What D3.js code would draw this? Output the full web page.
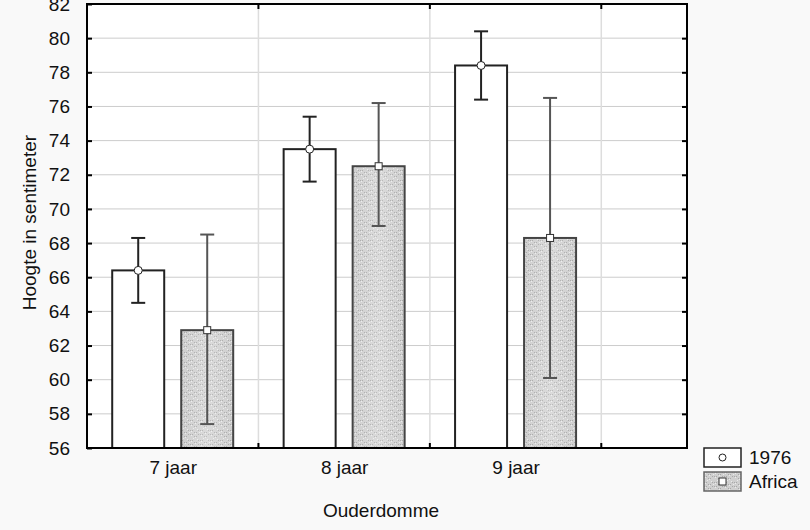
<!DOCTYPE html>
<html>
<head>
<meta charset="utf-8">
<script src="https://cdn.jsdelivr.net/npm/d3@7"></script>
<style>
  body { margin: 0; background: #f9f9f9; }
  svg { display: block; font-family: "Liberation Sans", Arial, sans-serif; }
</style>
</head>
<body>
<div id="chart"></div>
<script>
let categories = ["7 jaar", "8 jaar", "9 jaar"];
let series = ["1976", "Africa"];
let values1976 = [66.4, 73.5, 78.4];
let low1976 = [64.5, 71.6, 76.4];
let high1976 = [68.3, 75.4, 80.4];
let valuesAfrica = [62.9, 72.5, 68.3];
let lowAfrica = [57.4, 69.0, 60.1];
let highAfrica = [68.5, 76.2, 76.5];
let yTicks = [56, 58, 60, 62, 64, 66, 68, 70, 72, 74, 76, 78, 80, 82];

let width = 810, height = 530;
let margin = { left: 87, right: 120, top: 4, bottom: 82 };
let fontSize = "19px";

let svg = d3.select("#chart").append("svg")
    .attr("width", width)
    .attr("height", height);

// texture for the Africa bars
let defs = svg.append("defs");
let pat = defs.append("pattern")
    .attr("id", "tex")
    .attr("patternUnits", "userSpaceOnUse")
    .attr("width", 10).attr("height", 10);
pat.append("rect").attr("width", 10).attr("height", 10).attr("fill", "#cfcfcf");
[[0,0],[2,0],[4,2],[6,2],[0,4],[2,4],[4,6],[6,6],[8,0],[8,4]].forEach(p => {
    pat.append("rect").attr("x", p[0]).attr("y", p[1]).attr("width", 1).attr("height", 1).attr("fill", "#a8a8a8");
});
[[1,1],[5,3],[1,5],[5,7],[9,2],[3,8],[7,9]].forEach(p => {
    pat.append("rect").attr("x", p[0]).attr("y", p[1]).attr("width", 1).attr("height", 1).attr("fill", "#ebebeb");
});
let grad = defs.append("linearGradient").attr("id", "shine")
    .attr("x1", 0).attr("x2", 1).attr("y1", 0).attr("y2", 0);
grad.append("stop").attr("offset", "0%").attr("stop-color", "#fff").attr("stop-opacity", 0);
grad.append("stop").attr("offset", "50%").attr("stop-color", "#fff").attr("stop-opacity", 0.25);
grad.append("stop").attr("offset", "100%").attr("stop-color", "#fff").attr("stop-opacity", 0);

let x = d3.scaleLinear()
    .domain([0.5, 4])
    .range([margin.left, width - margin.right - 3]);

let y = d3.scaleLinear()
    .domain([56, 82])
    .range([height - margin.bottom, margin.top]);

let g = svg.append("g");

// plot background
g.append("rect")
    .attr("x", x(0.5)).attr("y", y(82))
    .attr("width", x(4) - x(0.5)).attr("height", y(56) - y(82))
    .attr("fill", "#fff");

// grid
g.selectAll(".hgrid").data(yTicks.slice(1, -1)).enter().append("line")
    .attr("x1", x(0.5)).attr("x2", x(4))
    .attr("y1", d => y(d)).attr("y2", d => y(d))
    .attr("stroke", "#cccccc").attr("stroke-width", 1);
g.selectAll(".vgrid").data([1.5, 2.5, 3.5]).enter().append("line")
    .attr("x1", d => x(d)).attr("x2", d => x(d))
    .attr("y1", y(82)).attr("y2", y(56))
    .attr("stroke", "#dddddd").attr("stroke-width", 1.5);

let offset = 34.5, barW = 52;
let data = categories.map((c, i) => [
    { cat: i + 1, s: "1976", v: values1976[i], lo: low1976[i], hi: high1976[i] },
    { cat: i + 1, s: "Africa", v: valuesAfrica[i], lo: lowAfrica[i], hi: highAfrica[i] }
]).flat();

let cx = d => x(d.cat) + (d.s == "1976" ? -offset : offset);

g.selectAll(".bar").data(data).enter().append("rect")
    .attr("x", d => cx(d) - barW / 2)
    .attr("y", d => y(d.v))
    .attr("width", barW)
    .attr("height", d => y(56) - y(d.v))
    .attr("fill", d => d.s == "1976" ? "#fff" : "url(#tex)")
    .attr("stroke", d => d.s == "1976" ? "#222" : "#444")
    .attr("stroke-width", 2);
g.selectAll(".shine").data(data.filter(d => d.s == "Africa")).enter().append("rect")
    .attr("x", d => cx(d) - barW / 2 + 1)
    .attr("y", d => y(d.v) + 1)
    .attr("width", barW - 2)
    .attr("height", d => y(56) - y(d.v) - 2)
    .attr("fill", "url(#shine)");

// error bars
let err = g.selectAll(".err").data(data).enter().append("g")
    .attr("stroke", d => d.s == "1976" ? "#222" : "#555")
    .attr("stroke-width", 2);
err.append("line")
    .attr("x1", cx).attr("x2", cx)
    .attr("y1", d => y(d.lo)).attr("y2", d => y(d.hi));
err.append("line")
    .attr("x1", d => cx(d) - 7).attr("x2", d => cx(d) + 7)
    .attr("y1", d => y(d.lo)).attr("y2", d => y(d.lo));
err.append("line")
    .attr("x1", d => cx(d) - 7).attr("x2", d => cx(d) + 7)
    .attr("y1", d => y(d.hi)).attr("y2", d => y(d.hi));

// markers
g.selectAll(".dot").data(data.filter(d => d.s == "1976")).enter().append("circle")
    .attr("cx", cx).attr("cy", d => y(d.v)).attr("r", 4)
    .attr("fill", "#fff").attr("stroke", "#222").attr("stroke-width", 1);
g.selectAll(".sq").data(data.filter(d => d.s == "Africa")).enter().append("rect")
    .attr("x", d => cx(d) - 3.5).attr("y", d => y(d.v) - 3.5)
    .attr("width", 7).attr("height", 7)
    .attr("fill", "#fff").attr("stroke", "#333").attr("stroke-width", 1);

// frame
g.append("rect")
    .attr("x", x(0.5)).attr("y", y(82))
    .attr("width", x(4) - x(0.5)).attr("height", y(56) - y(82))
    .attr("fill", "none").attr("stroke", "#000").attr("stroke-width", 2);

// axes
let yAxis = g.append("g")
    .attr("transform", "translate(" + x(0.5) + ",0)")
    .call(d3.axisLeft(y).tickValues(yTicks).tickSize(5).tickSizeOuter(0).tickPadding(12));
yAxis.select(".domain").remove();
yAxis.selectAll(".tick line").attr("stroke", "#000").attr("stroke-width", 2).attr("x1", 5).attr("x2", 0);
yAxis.selectAll("text").style("font-size", fontSize).attr("fill", "#111");

let yAxisR = g.append("g")
    .attr("transform", "translate(" + x(4) + ",0)")
    .call(d3.axisRight(y).tickValues(yTicks.slice(1, -1)).tickSize(0).tickFormat(""));
yAxisR.select(".domain").remove();
yAxisR.selectAll(".tick line").attr("stroke", "#000").attr("stroke-width", 2).attr("x1", -5).attr("x2", 0);

let xAxis = g.append("g")
    .attr("transform", "translate(0," + y(56) + ")")
    .call(d3.axisBottom(x).tickValues([1, 2, 3]).tickSize(0).tickPadding(13)
        .tickFormat(d => categories[d - 1]));
xAxis.select(".domain").remove();
xAxis.selectAll("text").style("font-size", fontSize).attr("fill", "#111");
g.selectAll(".xt").data([1.5, 2.5, 3.5]).enter().append("line")
    .attr("x1", d => x(d)).attr("x2", d => x(d))
    .attr("y1", y(56)).attr("y2", y(56) - 5)
    .attr("stroke", "#000").attr("stroke-width", 2);
g.selectAll(".xtt").data([1.5, 2.5, 3.5]).enter().append("line")
    .attr("x1", d => x(d)).attr("x2", d => x(d))
    .attr("y1", y(82)).attr("y2", y(82) + 5)
    .attr("stroke", "#000").attr("stroke-width", 2);

// axis titles
svg.append("text")
    .attr("transform", "translate(36," + y(69.2) + ") rotate(-90)")
    .attr("text-anchor", "middle")
    .style("font-size", fontSize).attr("fill", "#111")
    .text("Hoogte in sentimeter");
svg.append("text")
    .attr("x", 381).attr("y", 517)
    .attr("text-anchor", "middle")
    .style("font-size", fontSize).attr("fill", "#111")
    .text("Ouderdomme");

// legend
let legend = svg.append("g").attr("transform", "translate(704,448)");
series.forEach((s, i) => {
    let row = legend.append("g").attr("transform", "translate(0," + (i * 24) + ")");
    row.append("rect")
        .attr("width", 37).attr("height", 19)
        .attr("fill", s == "1976" ? "#fff" : "url(#tex)")
        .attr("stroke", s == "1976" ? "#222" : "#666").attr("stroke-width", 1.5);
    if (s == "1976") {
        row.append("circle").attr("cx", 18.5).attr("cy", 9.5).attr("r", 3.5)
            .attr("fill", "#fff").attr("stroke", "#222");
    } else {
        row.append("rect").attr("x", 15).attr("y", 6).attr("width", 7).attr("height", 7)
            .attr("fill", "#fff").attr("stroke", "#333");
    }
    row.append("text")
        .attr("x", 45).attr("y", 16)
        .style("font-size", fontSize).attr("fill", "#111")
        .text(s);
});
</script>
</body>
</html>
